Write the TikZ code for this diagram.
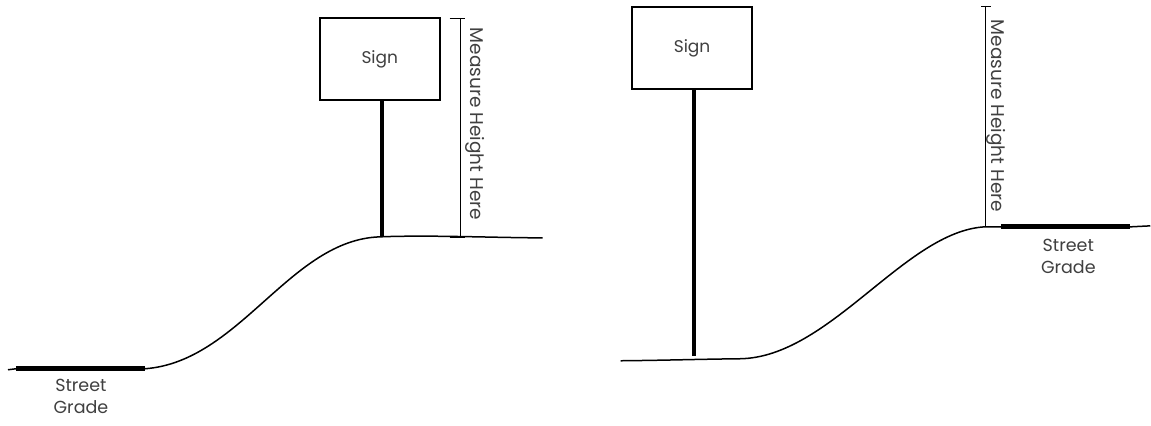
\documentclass[tikz,border=0pt]{standalone}
\usepackage{fontspec}
\setmainfont{Poppins}
\begin{document}
\begin{tikzpicture}[x=1pt,y=-1pt,
  signbox/.style={draw=black,line width=2pt,minimum width=120pt,minimum height=82pt,inner sep=0pt,font=\fontsize{17}{19}\selectfont,text=black!75},
  post/.style={line width=4pt},
  ground/.style={line width=1.5pt},
  grade/.style={line width=5pt},
  meas/.style={line width=0.8pt},
  lbl/.style={font=\fontsize{17.5}{22}\selectfont,text=black!75,align=center},
  vlbl/.style={font=\fontsize{18.5}{20}\selectfont,text=black!75,rotate=-90,inner sep=0pt}]
\path[fill=white] (0,0) rectangle (1151,426);
% ---------- left diagram ----------
\node[signbox] (signL) at (380,59) {Sign};
\coordinate (postLb) at (382,236);
\draw[post] (signL.south -| postLb) -- (postLb);
\coordinate (gL0) at (8,370);
\coordinate (gL1) at (16,369);
\coordinate (gL2) at (145,369);
\coordinate (gL3) at (380,237);
\coordinate (gL4) at (543,238);
\draw[ground] (gL0) -- (gL1) -- (gL2) .. controls (240,362) and (290,240) .. (gL3) .. controls (430,235) and (500,238) .. (gL4);
\draw[grade] (gL1) -- (gL2);
\node[lbl] (sgL) at (81,397) {Street\\Grade};
\coordinate (mLt) at (461,18);
\coordinate (mLb) at (461,238);
\draw[meas] (mLt) -- (mLb);
\draw[meas] ([xshift=-11pt]mLt) -- ([xshift=4pt]mLt);
\draw[meas] ([xshift=-11pt]mLb) -- ([xshift=4pt]mLb);
\node[vlbl] (mtL) at (475,124) {Measure Height Here};
% ---------- right diagram ----------
\node[signbox] (signR) at (692.5,48.5) {Sign};
\coordinate (postRb) at (694,356);
\draw[post] (signR.south -| postRb) -- (postRb);
\coordinate (gR0) at (621,361);
\coordinate (gR1) at (740,359);
\coordinate (gR2) at (985,227);
\coordinate (gR3) at (1002,227);
\coordinate (gR4) at (1131,227);
\coordinate (gR5) at (1151,226);
\draw[ground] (gR0) .. controls (670,360.5) and (700,359.4) .. (gR1) .. controls (830,358) and (905,232) .. (gR2) -- (gR3) -- (gR4) -- (gR5);
\draw[grade] (gR3) -- (gR4);
\node[lbl] (sgR) at (1069,257) {Street\\Grade};
\coordinate (mRt) at (986,6);
\coordinate (mRb) at (986,227);
\draw[meas] (mRt) -- (mRb);
\draw[meas] ([xshift=-4pt]mRt) -- ([xshift=6pt]mRt);
\node[vlbl] (mtR) at (997,116) {Measure Height Here};
\end{tikzpicture}
\end{document}
